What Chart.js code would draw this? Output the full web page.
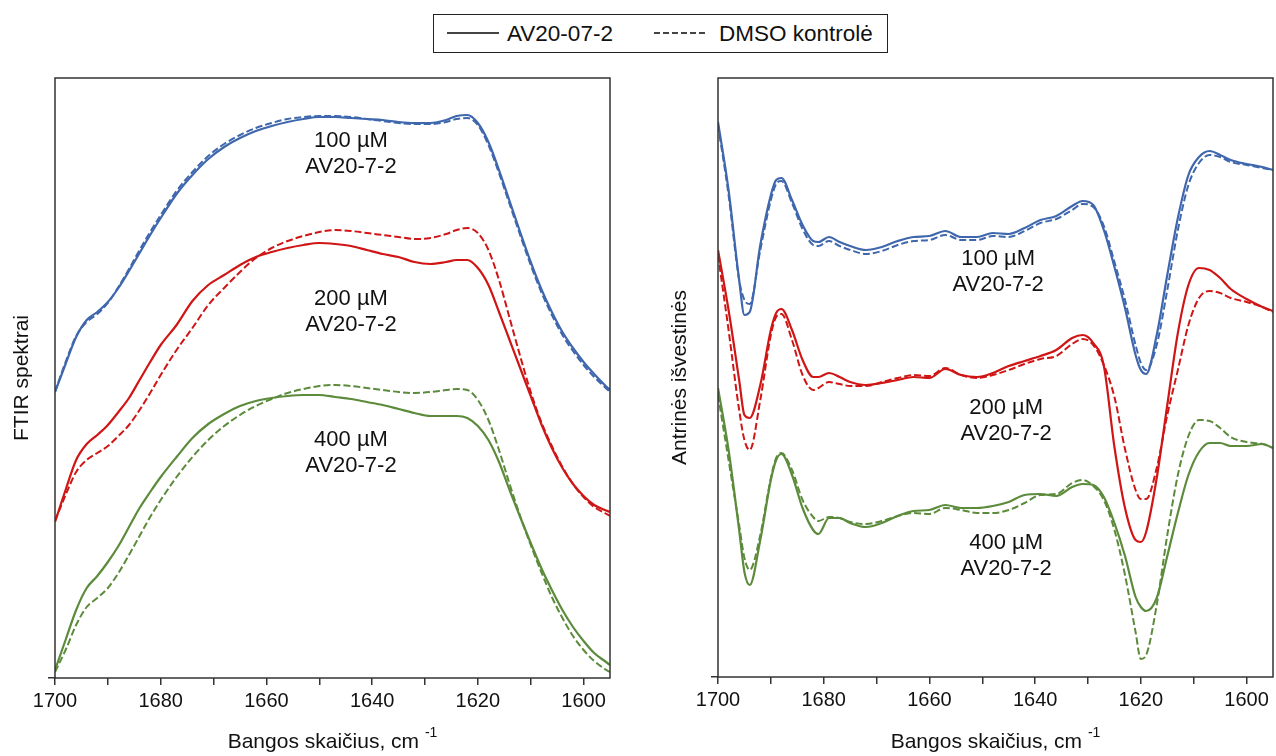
<!DOCTYPE html>
<html>
<head>
<meta charset="utf-8">
<script src="https://cdn.jsdelivr.net/npm/chart.js@4.4.0/dist/chart.umd.min.js"></script>
<style>
    body { margin: 0; background: #fff; }
    #wrap { position: relative; width: 1276px; height: 756px; overflow: hidden; font-family: 'Liberation Sans', Arial, sans-serif; }
    canvas { position: absolute; top: 0; }
    #ftirChart { left: 0; }
    #derivChart { left: 640px; }
    #legend { position: absolute; left: 433px; top: 14px; width: 453px; height: 37px; border: 1.5px solid #222; background: #fff; }
    #legend svg, #legend span { position: absolute; }
    #legend span { top: 6px; font-size: 22.5px; line-height: 26px; color: #111; white-space: nowrap; }
</style>
</head>
<body>
<div id="wrap">
    <canvas id="ftirChart" width="640" height="756"></canvas>
    <canvas id="derivChart" width="636" height="756"></canvas>
    <div id="legend">
        <svg style="left:13px; top:16px" width="52" height="4"><line x1="0" y1="2" x2="52" y2="2" stroke="#444" stroke-width="2"/></svg>
        <span id="legendDrug" style="left:73px"></span>
        <svg style="left:220px; top:16px" width="52" height="4"><line x1="0" y1="2" x2="52" y2="2" stroke="#444" stroke-width="2" stroke-dasharray="6 3"/></svg>
        <span id="legendDmso" style="left:285px"></span>
    </div>
</div>
<script>
// series names and tick values
const seriesNames = ['AV20-07-2', 'DMSO kontrolė'];
const sampleName = 'AV20-7-2';
const concentrations = ['100 µM', '200 µM', '400 µM'];
const xTickValues = [1700, 1690, 1680, 1670, 1660, 1650, 1640, 1630, 1620, 1610, 1600];

// FTIR spectra (arbitrary units)
const ftirWavenumbers = [1700, 1698, 1696, 1694, 1692, 1690, 1688, 1686, 1684, 1682, 1680, 1677, 1674, 1671, 1668, 1665, 1662, 1659, 1656, 1653, 1650, 1647, 1644, 1641, 1638, 1635, 1632, 1629, 1626, 1624, 1622, 1620, 1618, 1616, 1614, 1612, 1610, 1608, 1606, 1604, 1602, 1600, 1598, 1596, 1595];
const ftir100Drug = [286, 314, 341, 358, 366, 376, 390, 407, 425, 443, 460, 484, 503, 519, 531, 540, 547, 552, 556, 559, 561, 561, 560, 559, 558, 556, 555, 555, 558, 562, 563, 555, 536, 508, 477, 446, 416, 389, 366, 346, 330, 316, 304, 293, 288];
const ftir100Dmso = [286, 316, 342, 356, 364, 375, 391, 409, 428, 446, 463, 487, 506, 522, 534, 543, 550, 555, 559, 561, 562, 562, 561, 559, 557, 555, 554, 554, 556, 559, 560, 553, 533, 505, 474, 443, 413, 386, 363, 343, 327, 313, 301, 291, 286];
const ftir200Drug = [156, 188, 218, 234, 243, 253, 266, 280, 298, 316, 333, 353, 377, 393, 403, 413, 421, 426, 430, 433, 435, 434, 432, 428, 424, 421, 416, 414, 416, 418, 418, 410, 393, 366, 338, 310, 282, 254, 230, 210, 194, 182, 173, 168, 166];
const ftir200Dmso = [157, 183, 206, 218, 225, 232, 242, 253, 268, 285, 303, 328, 350, 373, 390, 406, 420, 430, 437, 442, 446, 448, 447, 445, 443, 441, 439, 440, 444, 448, 450, 445, 428, 398, 360, 322, 286, 256, 232, 211, 194, 181, 171, 165, 162];
const ftir400Drug = [8, 38, 68, 90, 102, 116, 132, 151, 170, 186, 201, 221, 240, 254, 264, 272, 277, 280, 282, 283, 283, 281, 279, 276, 273, 269, 265, 262, 262, 262, 260, 252, 238, 216, 188, 161, 135, 110, 88, 68, 51, 37, 25, 17, 13];
const ftir400Dmso = [6, 28, 53, 71, 80, 90, 105, 123, 142, 161, 178, 201, 221, 238, 252, 263, 272, 279, 285, 289, 292, 293, 292, 290, 288, 286, 285, 286, 288, 289, 288, 278, 258, 228, 194, 162, 133, 106, 81, 60, 42, 28, 17, 9, 6];

// second derivatives (arbitrary units)
const derivWavenumbers = [1700, 1698, 1696, 1695, 1694, 1692, 1690, 1689, 1688, 1686, 1684, 1682, 1681, 1679, 1677, 1675, 1672, 1669, 1666, 1663, 1660, 1657, 1654, 1651, 1648, 1645, 1642, 1639, 1636, 1633, 1631, 1629, 1627, 1625, 1623, 1621, 1620, 1619, 1617, 1615, 1613, 1611, 1609, 1607, 1605, 1603, 1600, 1597, 1595];
const deriv100Drug = [556, 488, 398, 363, 366, 433, 483, 498, 500, 478, 453, 437, 436, 441, 436, 432, 428, 431, 437, 441, 442, 447, 441, 441, 445, 444, 450, 458, 462, 472, 477, 473, 448, 411, 370, 323, 308, 304, 343, 403, 460, 503, 521, 527, 523, 518, 514, 511, 508];
const deriv100Dmso = [553, 483, 398, 378, 374, 428, 478, 494, 497, 475, 449, 433, 432, 437, 432, 428, 424, 427, 433, 437, 438, 443, 438, 438, 442, 441, 447, 455, 459, 468, 474, 471, 452, 416, 378, 333, 315, 308, 333, 388, 448, 493, 515, 523, 521, 516, 513, 510, 508];
const deriv200Drug = [428, 368, 298, 263, 260, 293, 348, 365, 369, 348, 318, 301, 301, 305, 301, 296, 293, 295, 298, 301, 300, 309, 303, 301, 305, 312, 317, 322, 328, 340, 343, 335, 312, 231, 170, 138, 136, 146, 200, 273, 345, 393, 410, 408, 400, 389, 379, 371, 367];
const deriv200Dmso = [423, 348, 268, 238, 228, 278, 343, 361, 364, 338, 303, 288, 290, 296, 294, 292, 292, 296, 300, 303, 302, 310, 303, 300, 303, 308, 314, 319, 322, 334, 339, 333, 313, 281, 229, 188, 179, 179, 210, 263, 308, 353, 380, 387, 385, 380, 376, 371, 366];
const deriv400Drug = [290, 228, 148, 106, 93, 138, 198, 218, 224, 203, 170, 148, 144, 160, 160, 155, 151, 155, 162, 167, 168, 173, 170, 170, 172, 176, 183, 184, 182, 191, 194, 193, 181, 155, 122, 81, 71, 67, 80, 122, 165, 203, 226, 235, 235, 232, 232, 234, 230];
const deriv400Dmso = [283, 218, 153, 120, 108, 143, 200, 220, 225, 208, 178, 161, 157, 161, 160, 156, 154, 157, 162, 165, 164, 170, 168, 165, 165, 168, 175, 183, 184, 195, 198, 192, 178, 148, 103, 46, 19, 23, 73, 143, 203, 242, 258, 257, 250, 241, 236, 234, 230];

const lineColors = ['#3f67ad', '#d01515', '#5b8b3b'];
const fontFamily = "'Liberation Sans', Arial, sans-serif";

Chart.defaults.font.family = fontFamily;
Chart.defaults.color = '#111';

document.getElementById('legendDrug').textContent = seriesNames[0];
document.getElementById('legendDmso').textContent = seriesNames[1];

function toPoints(wn, vals) {
    var pts = [];
    for (var i = 0; i < wn.length; i++) {
        pts.push({ x: wn[i], y: vals[i] });
    }
    return pts;
}

// frame, curve labels and x title with superscript
const panelDecor = {
    id: 'panelDecor',
    afterDraw(chart) {
        const ctx = chart.ctx;
        const a = chart.chartArea;
        const x = chart.scales.x;
        const y = chart.scales.y;
        const opts = chart.options.plugins.panelDecor;
        ctx.save();
        ctx.strokeStyle = '#333';
        ctx.lineWidth = 1.5;
        ctx.strokeRect(a.left, a.top, a.right - a.left, a.bottom - a.top);

        ctx.fillStyle = '#111';
        ctx.font = '22px ' + fontFamily;
        ctx.textAlign = 'center';
        ctx.textBaseline = 'middle';
        for (var i = 0; i < opts.labels.length; i++) {
            var px = x.getPixelForValue(opts.labels[i][0]);
            var py = y.getPixelForValue(opts.labels[i][1]);
            ctx.fillText(concentrations[i], px, py - 13);
            ctx.fillText(sampleName, px, py + 13);
        }

        var main = 'Bangos skaičius, cm ';
        ctx.font = '21px ' + fontFamily;
        var w1 = ctx.measureText(main).width;
        ctx.font = '14px ' + fontFamily;
        var w2 = ctx.measureText('-1').width;
        var sx = (a.left + a.right) / 2 - (w1 + w2) / 2;
        ctx.textAlign = 'left';
        ctx.font = '21px ' + fontFamily;
        ctx.fillText(main, sx, 742);
        ctx.font = '14px ' + fontFamily;
        ctx.fillText('-1', sx + w1, 733);
        ctx.restore();
    }
};

function buildPanel(canvasId, wn, pairs, cfg) {
    var datasets = [];
    for (var i = 0; i < pairs.length; i++) {
        datasets.push({
            label: concentrations[i] + ' ' + seriesNames[0],
            data: toPoints(wn, pairs[i][0]),
            borderColor: lineColors[i],
            borderWidth: 2.2
        });
        datasets.push({
            label: concentrations[i] + ' ' + seriesNames[1],
            data: toPoints(wn, pairs[i][1]),
            borderColor: lineColors[i],
            borderWidth: 2,
            borderDash: [7, 3]
        });
    }

    return new Chart(document.getElementById(canvasId), {
        type: 'line',
        data: { datasets: datasets },
        plugins: [panelDecor],
        options: {
            responsive: false,
            animation: false,
            devicePixelRatio: 1,
            layout: { padding: { top: 78, right: cfg.padRight, left: 0, bottom: 0 } },
            elements: {
                point: { radius: 0 },
                line: { cubicInterpolationMode: 'monotone', fill: false }
            },
            plugins: {
                legend: { display: false },
                tooltip: { enabled: false },
                panelDecor: { labels: cfg.labels }
            },
            scales: {
                x: {
                    type: 'linear',
                    reverse: true,
                    min: 1595,
                    max: 1700,
                    afterBuildTicks: function (s) { s.ticks = xTickValues.map(function (v) { return { value: v }; }); },
                    afterFit: function (s) { s.height = cfg.xHeight; },
                    ticks: {
                        autoSkip: false,
                        maxRotation: 0,
                        padding: 4,
                        color: '#111',
                        font: { size: 20 },
                        callback: function (v) { return v % 20 === 0 ? String(v) : ''; }
                    },
                    grid: { drawOnChartArea: false, tickLength: 7, color: '#333', lineWidth: 1.5 },
                    border: { display: false }
                },
                y: {
                    min: cfg.yMin,
                    max: 600,
                    afterBuildTicks: function (s) { s.ticks = [{ value: s.min }]; },
                    afterFit: function (s) { s.width = cfg.yWidth; },
                    ticks: { display: false },
                    grid: { drawOnChartArea: false, tickLength: 7, color: '#333', lineWidth: 1.5 },
                    border: { display: false },
                    title: {
                        display: true,
                        text: cfg.yTitle,
                        color: '#111',
                        font: { size: 21 },
                        padding: { top: cfg.yTitlePad, bottom: 0 }
                    }
                }
            }
        }
    });
}

buildPanel('ftirChart', ftirWavenumbers,
    [[ftir100Drug, ftir100Dmso], [ftir200Drug, ftir200Dmso], [ftir400Drug, ftir400Dmso]],
    { padRight: 30, xHeight: 78, yWidth: 55, yMin: 0, yTitle: 'FTIR spektrai', yTitlePad: 10,
      labels: [[1644, 524], [1644, 366], [1644, 225]] });

buildPanel('derivChart', derivWavenumbers,
    [[deriv100Drug, deriv100Dmso], [deriv200Drug, deriv200Dmso], [deriv400Drug, deriv400Dmso]],
    { padRight: 3, xHeight: 79, yWidth: 78, yMin: 1, yTitle: 'Antrinės išvestinės', yTitlePad: 28,
      labels: [[1647, 406], [1645.5, 257], [1645.5, 122]] });
</script>
</body>
</html>
